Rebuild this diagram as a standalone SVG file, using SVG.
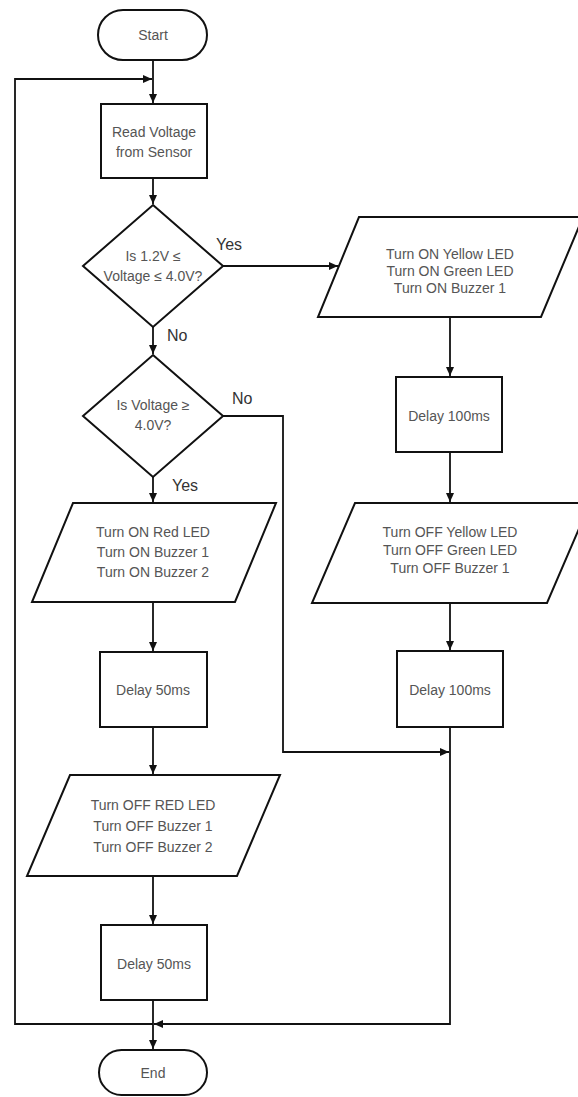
<svg xmlns="http://www.w3.org/2000/svg" width="578" height="1097" viewBox="0 0 578 1097">
<style>
.shape{fill:#fff;stroke:#111;stroke-width:2}
.t{font-family:"Liberation Sans",Arial,sans-serif;font-size:14px;fill:#555;text-anchor:middle}
.lbl{font-family:"Liberation Sans",Arial,sans-serif;font-size:16px;fill:#333}
.c{fill:none;stroke:#111;stroke-width:1.8}
</style>
<defs>
<marker id="ah" markerWidth="10" markerHeight="10" refX="9" refY="5" orient="auto" markerUnits="userSpaceOnUse">
<path d="M0,1 L9,5 L0,9 Z" fill="#111"/>
</marker>
</defs>
<rect width="578" height="1097" fill="#fff"/>
<g id="connectors">
<path class="c" d="M153,60 V103" marker-end="url(#ah)"/>
<path class="c" d="M153,1024 H15 V79 H152" marker-end="url(#ah)"/>
<path class="c" d="M153,178 V204" marker-end="url(#ah)"/>
<path class="c" d="M223,266 H338" marker-end="url(#ah)"/>
<path class="c" d="M153,327 V354" marker-end="url(#ah)"/>
<path class="c" d="M223,416 H283 V752 H449" marker-end="url(#ah)"/>
<path class="c" d="M153,477 V502" marker-end="url(#ah)"/>
<path class="c" d="M450,317 V376" marker-end="url(#ah)"/>
<path class="c" d="M450,452 V502" marker-end="url(#ah)"/>
<path class="c" d="M450,603 V650" marker-end="url(#ah)"/>
<path class="c" d="M450,727 V1024 H154" marker-end="url(#ah)"/>
<path class="c" d="M153,602 V651" marker-end="url(#ah)"/>
<path class="c" d="M153,727 V774" marker-end="url(#ah)"/>
<path class="c" d="M153,876 V924" marker-end="url(#ah)"/>
<path class="c" d="M153,1000 V1049" marker-end="url(#ah)"/>
</g>
<g id="start">
<rect class="shape" x="98" y="10" width="109" height="50" rx="25"/>
<text class="t" x="153" y="40">Start</text>
</g>
<g id="read">
<rect class="shape" x="101" y="104" width="106" height="74"/>
<text class="t" x="154" y="137">Read Voltage</text>
<text class="t" x="154" y="157">from Sensor</text>
</g>
<g id="dec1">
<polygon class="shape" points="153,205 223,266 153,327 83,266"/>
<text class="t" x="153" y="261">Is 1.2V ≤</text>
<text class="t" x="153" y="281">Voltage ≤ 4.0V?</text>
</g>
<g id="yellowOn">
<polygon class="shape" points="359,217 583,217 541,317 318,317"/>
<text class="t" x="450" y="259">Turn ON Yellow LED</text>
<text class="t" x="450" y="276">Turn ON Green LED</text>
<text class="t" x="450" y="293">Turn ON Buzzer 1</text>
</g>
<g id="delay100a">
<rect class="shape" x="396" y="377" width="106" height="75"/>
<text class="t" x="449" y="421">Delay 100ms</text>
</g>
<g id="yellowOff">
<polygon class="shape" points="355,503 590,503 547,603 312,603"/>
<text class="t" x="450" y="537">Turn OFF Yellow LED</text>
<text class="t" x="450" y="555">Turn OFF Green LED</text>
<text class="t" x="450" y="573">Turn OFF Buzzer 1</text>
</g>
<g id="delay100b">
<rect class="shape" x="397" y="651" width="106" height="76"/>
<text class="t" x="450" y="695">Delay 100ms</text>
</g>
<g id="dec2">
<polygon class="shape" points="153,355 223,416 153,477 83,416"/>
<text class="t" x="153" y="410">Is Voltage ≥</text>
<text class="t" x="153" y="430">4.0V?</text>
</g>
<g id="redOn">
<polygon class="shape" points="73,503 276,503 235,602 32,602"/>
<text class="t" x="153" y="537">Turn ON Red LED</text>
<text class="t" x="153" y="557">Turn ON Buzzer 1</text>
<text class="t" x="153" y="577">Turn ON Buzzer 2</text>
</g>
<g id="delay50a">
<rect class="shape" x="100" y="652" width="107" height="75"/>
<text class="t" x="153" y="695">Delay 50ms</text>
</g>
<g id="redOff">
<polygon class="shape" points="70,775 280,775 237,876 27,876"/>
<text class="t" x="153" y="810">Turn OFF RED LED</text>
<text class="t" x="153" y="831">Turn OFF Buzzer 1</text>
<text class="t" x="153" y="852">Turn OFF Buzzer 2</text>
</g>
<g id="delay50b">
<rect class="shape" x="101" y="925" width="106" height="75"/>
<text class="t" x="154" y="969">Delay 50ms</text>
</g>
<g id="end">
<rect class="shape" x="99" y="1050" width="108" height="45" rx="22.5"/>
<text class="t" x="153" y="1078">End</text>
</g>
<g id="labels">
<text class="lbl" x="216" y="250">Yes</text>
<text class="lbl" x="167" y="341">No</text>
<text class="lbl" x="232" y="404">No</text>
<text class="lbl" x="172" y="491">Yes</text>
</g>
</svg>
